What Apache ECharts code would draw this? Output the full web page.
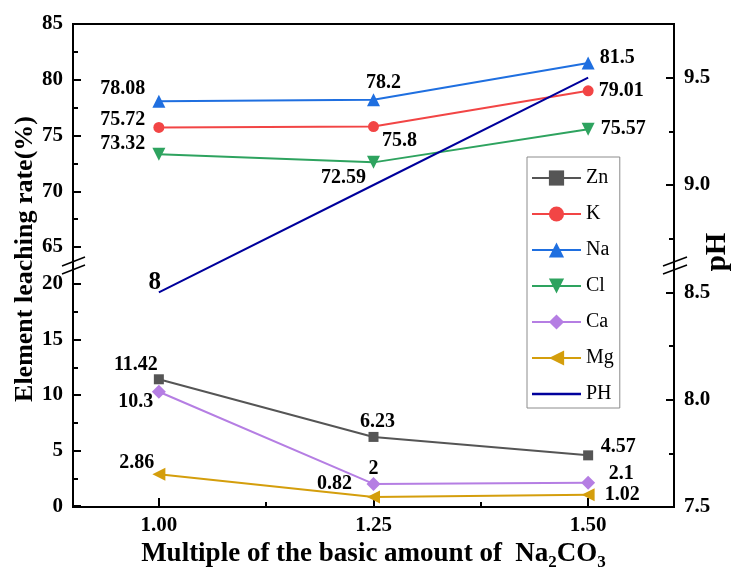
<!DOCTYPE html>
<html>
<head>
    <meta charset="utf-8">
    <script type="text/javascript" src="https://cdn.jsdelivr.net/npm/echarts@6/dist/echarts.min.js"></script>
    <style>
        html, body { margin: 0; padding: 0; background: #fff; }
    </style>
</head>
<body>
    <div id="main" style="width: 735px;height:572px;"></div>
    <script type="text/javascript">
    // multiples of the basic amount of Na2CO3
    let multiples = [1.00, 1.25, 1.50]
    // leaching rate (%) – upper part of the broken axis
    let na = [78.08, 78.2, 81.5]
    let k  = [75.72, 75.8, 79.01]
    let cl = [73.32, 72.59, 75.57]
    // leaching rate (%) – lower part
    let zn = [11.42, 6.23, 4.57]
    let ca = [10.3, 2, 2.1]
    let mg = [2.86, 0.82, 1.02]
    // pH (right axis)
    let ph = [8.5, 9.0, 9.5]
    let phLabels = ['8', '', '']

    let xTicks = [1.00, 1.25, 1.50]
    let xMinor = [1.125, 1.375]
    let phTicks = [7.5, 8.0, 8.5, 9.0, 9.5]
    let phMinor = [7.75, 8.25, 8.75, 9.25]

    let FONT = '"Liberation Serif", "Times New Roman", serif'
    let labelStyle = { color: '#000', fontFamily: FONT, fontWeight: 'bold', fontSize: 20 }
    let tickFont = { color: '#000', fontFamily: FONT, fontWeight: 'bold', fontSize: 21 }

    function pts(vals, offsets) {
        return vals.map((v, i) => ({
            value: [multiples[i], v],
            label: { offset: offsets[i] }
        }))
    }

    function elementSeries(name, vals, color, symbol, rotate, size, idx, offsets) {
        return {
            name: name,
            type: 'line',
            xAxisIndex: idx,
            yAxisIndex: idx,
            symbol: symbol,
            symbolRotate: rotate,
            symbolSize: size,
            color: color,
            lineStyle: { width: 2, color: color },
            itemStyle: { color: color },
            label: Object.assign({ show: true, position: 'inside' }, labelStyle),
            data: pts(vals, offsets)
        }
    }

    let yTickBase = {
        axisLine: { show: false },
        axisTick: { inside: true, length: 8, lineStyle: { color: '#000', width: 2 } },
        minorTick: { show: true, splitNumber: 2, length: 5, lineStyle: { color: '#000', width: 2 } },
        splitLine: { show: false },
        axisLabel: Object.assign({ margin: 10 }, tickFont)
    }

    var myChart = echarts.init(document.getElementById('main'));
    option = {
        animation: false,
        backgroundColor: '#fff',
        grid: [
            { left: 73, right: 61, top: 24, height: 223 },
            { left: 73, right: 61, top: 284, height: 223 },
            { left: 73, right: 61, top: 24, height: 483, show: true, borderColor: '#000', borderWidth: 2 }
        ],
        xAxis: [
            { gridIndex: 0, type: 'value', min: 0.9, max: 1.6, show: false },
            {
                gridIndex: 1, type: 'value', min: 0.9, max: 1.6,
                axisLine: { show: false },
                splitLine: { show: false },
                axisTick: { inside: true, length: 8, customValues: xTicks, lineStyle: { color: '#000', width: 2 } },
                axisLabel: Object.assign({
                    customValues: xTicks, margin: 9,
                    formatter: v => v.toFixed(2)
                }, tickFont),
                name: 'Multiple of the basic amount of  Na{sub|2}CO{sub|3}',
                nameLocation: 'middle',
                nameGap: 23,
                nameTextStyle: {
                    color: '#000', fontFamily: FONT, fontWeight: 'bold', fontSize: 27, lineHeight: 28,
                    rich: {
                        sub: { color: '#000', fontFamily: FONT, fontWeight: 'bold', fontSize: 17, lineHeight: 17, padding: [17, 0, 0, 0] }
                    }
                }
            },
            {
                gridIndex: 2, type: 'value', min: 0.9, max: 1.6,
                axisLine: { show: false },
                splitLine: { show: false },
                axisLabel: { show: false },
                axisTick: { inside: true, length: 5, customValues: xMinor, lineStyle: { color: '#000', width: 2 } }
            }
        ],
        yAxis: [
            Object.assign({ gridIndex: 0, type: 'value', min: 65, max: 85, interval: 5 }, yTickBase),
            Object.assign({ gridIndex: 1, type: 'value', min: 0, max: 20, interval: 5 }, yTickBase),
            {
                gridIndex: 2, type: 'value', position: 'right', min: 7.5, max: 9.75,
                axisLine: { show: false },
                splitLine: { show: false },
                axisTick: { inside: true, length: 8, customValues: phTicks, lineStyle: { color: '#000', width: 2 } },
                axisLabel: Object.assign({
                    customValues: phTicks, margin: 10,
                    formatter: v => v.toFixed(1)
                }, tickFont)
            },
            {
                gridIndex: 2, type: 'value', position: 'right', min: 7.5, max: 9.75,
                axisLine: { show: false },
                splitLine: { show: false },
                axisLabel: { show: false },
                axisTick: { inside: true, length: 5, customValues: phMinor, lineStyle: { color: '#000', width: 2 } }
            }
        ],
        legend: {
            orient: 'vertical',
            left: 527,
            top: 157,
            padding: [11, 6, 4, 4],
            itemWidth: 49,
            itemHeight: 19,
            itemGap: 16,
            itemTextGap: 4,
            borderColor: '#8c8c8c',
            borderWidth: 1,
            textStyle: { color: '#000', fontFamily: FONT, fontSize: 20 },
            data: ['Zn', 'K', 'Na', 'Cl', 'Ca', 'Mg', { name: 'PH', icon: 'path://M0,0H40V2.2H0Z' }]
        },
        graphic: [
            // break marks
            { type: 'line', shape: { x1: 62, y1: 266, x2: 85, y2: 257 }, style: { stroke: '#000', lineWidth: 1.5 } },
            { type: 'line', shape: { x1: 62, y1: 274, x2: 85, y2: 265 }, style: { stroke: '#000', lineWidth: 1.5 } },
            { type: 'line', shape: { x1: 663, y1: 266, x2: 687, y2: 257 }, style: { stroke: '#000', lineWidth: 1.5 } },
            { type: 'line', shape: { x1: 663, y1: 274, x2: 687, y2: 265 }, style: { stroke: '#000', lineWidth: 1.5 } },
            {
                type: 'text', x: 25, y: 259, rotation: Math.PI / 2,
                style: { text: 'Element leaching rate(%)', fill: '#000', font: 'bold 26px ' + FONT, textAlign: 'center', textVerticalAlign: 'middle' }
            },
            {
                type: 'text', x: 718, y: 252, rotation: Math.PI / 2,
                style: { text: 'pH', fill: '#000', font: 'bold 29px ' + FONT, textAlign: 'center', textVerticalAlign: 'middle' }
            }
        ],
        series: [
            elementSeries('Zn', zn, '#555555', 'rect', 0, 10, 1, [[-23, -14], [4, -15], [30, -9]]),
            elementSeries('K', k, '#f24545', 'circle', 0, 11, 0, [[-36, -8], [26, 14], [33, 0]]),
            elementSeries('Na', na, '#1f6fe0', 'triangle', 0, 13, 0, [[-36, -12], [10, -17], [29, -5]]),
            elementSeries('Cl', cl, '#2ea35f', 'triangle', 180, 13, 0, [[-36, -10], [-30, 15], [35, 0]]),
            elementSeries('Ca', ca, '#b57ee3', 'diamond', 0, 14, 1, [[-23, 10], [0, -15], [33, -9]]),
            elementSeries('Mg', mg, '#d49e0c', 'triangle', 90, 13, 1, [[-22, -12], [-39, -13], [34, 0]]),
            {
                name: 'PH',
                type: 'line',
                xAxisIndex: 2,
                yAxisIndex: 2,
                symbol: 'circle',
                symbolSize: 0.01,
                showSymbol: true,
                color: '#00009c',
                itemStyle: { color: '#00009c' },
                lineStyle: { width: 2, color: '#00009c' },
                label: Object.assign({ show: true, position: 'inside', offset: [-4, -10], formatter: p => phLabels[p.dataIndex] }, labelStyle, { fontSize: 25 }),
                data: ph.map((v, i) => [multiples[i], v])
            }
        ]
    };
    myChart.setOption(option);
    </script>
</body>
</html>
